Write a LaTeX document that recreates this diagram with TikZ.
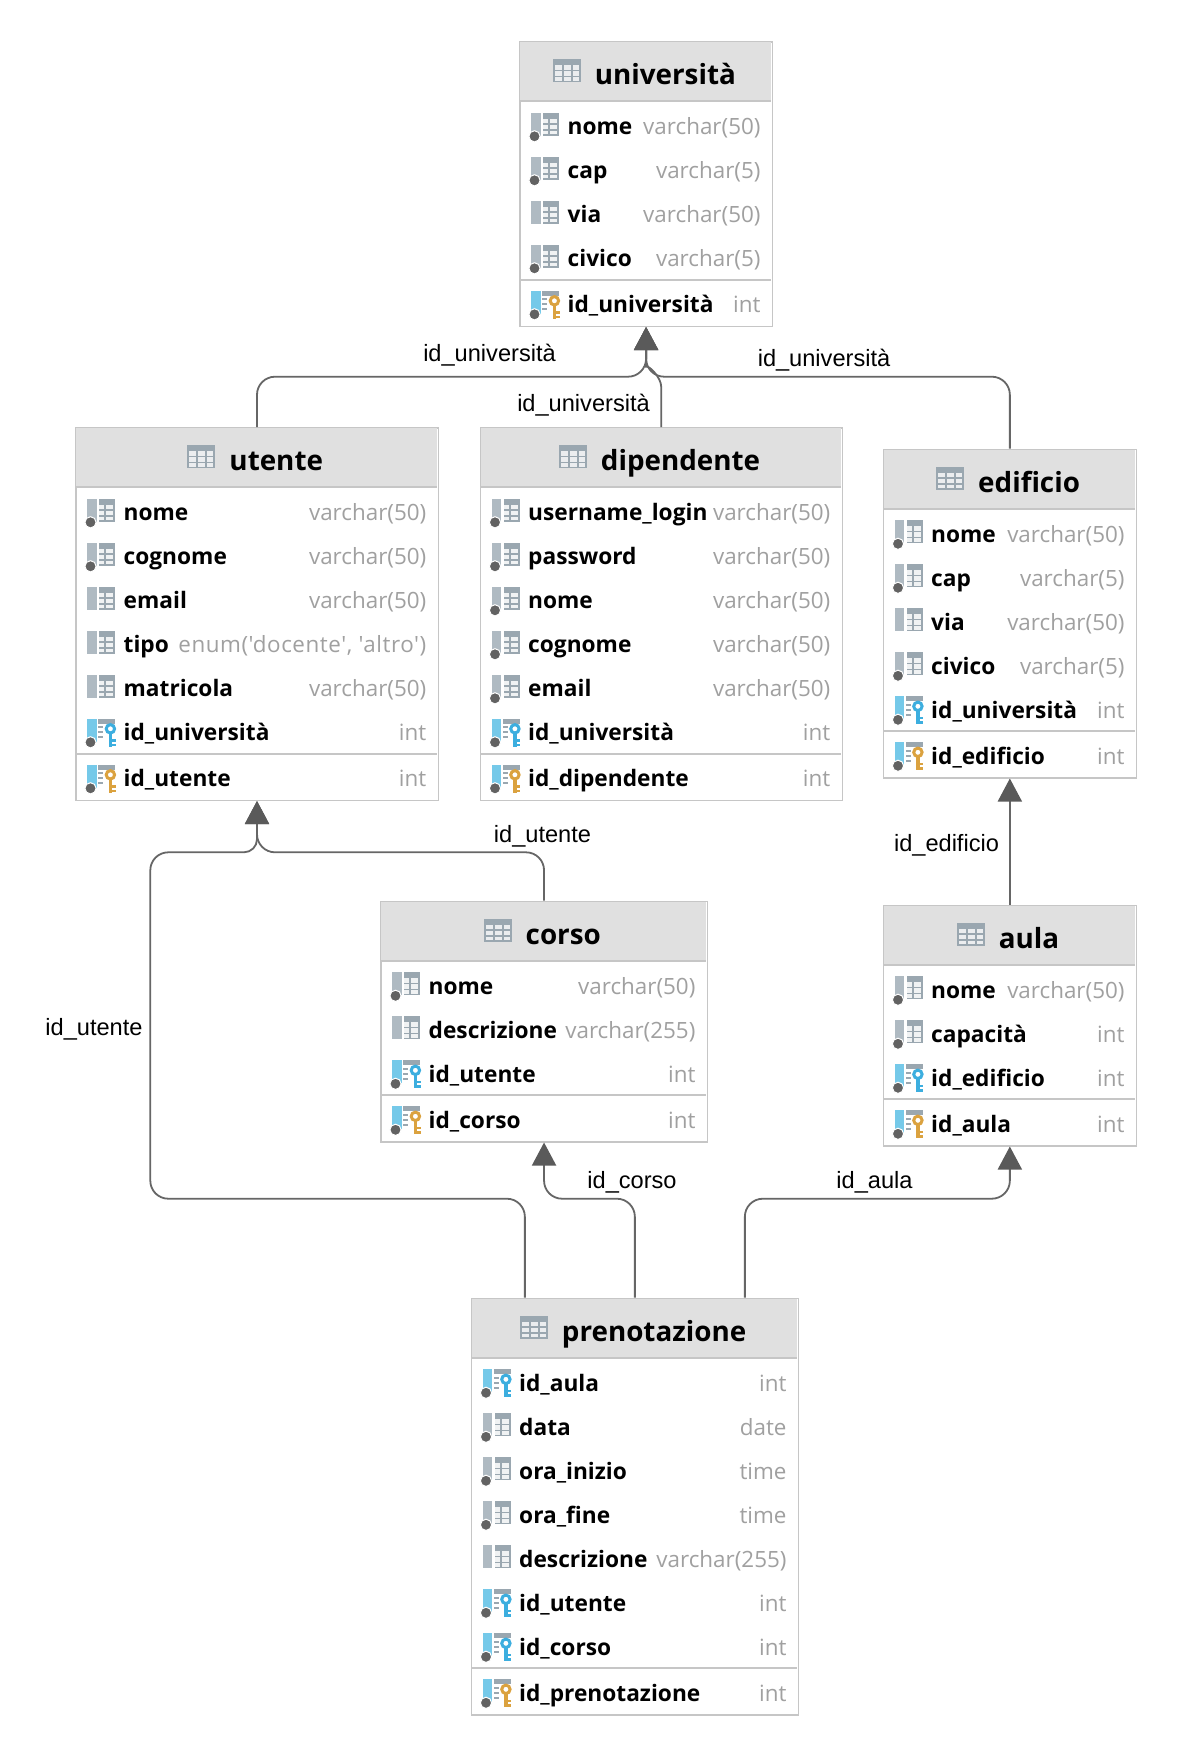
\documentclass[tikz,border=0pt]{standalone}
\usepackage{fontspec}
\usetikzlibrary{arrows.meta,calc}
\newfontfamily\dbname[BoldFont={Open Sans Bold}]{Open Sans}
\newfontfamily\dblabel{Liberation Sans}
\definecolor{dbborder}{HTML}{C6C6C6}
\definecolor{dbhead}{HTML}{E0E0E0}
\definecolor{dbtype}{HTML}{A0A0A0}
\definecolor{dbline}{HTML}{666666}
\definecolor{dbtip}{HTML}{5A5A5A}
\definecolor{icbar}{HTML}{AFBAC2}
\definecolor{icgrid}{HTML}{9AA7B0}
\definecolor{icblue}{HTML}{75C9E9}
\definecolor{ickeyf}{HTML}{3CAEDF}
\definecolor{ickeyp}{HTML}{DBA23F}
\definecolor{icdot}{HTML}{626262}
\tikzset{
  tablebox/.style={draw=dbborder,line width=1.5pt,fill=white,anchor=north west,inner sep=0pt},
  rule/.style={draw=dbborder,line width=2pt},
  rowname/.style={anchor=base west,inner sep=0pt,font=\dbname\bfseries\fontsize{22.7}{26}\selectfont,text=black},
  rowtype/.style={anchor=base east,inner sep=0pt,font=\dbname\fontsize{22.4}{26}\selectfont,text=dbtype},
  titletext/.style={anchor=base,inner sep=0pt,font=\dbname\bfseries\fontsize{27.8}{32}\selectfont,text=black},
  conn/.style={draw=dbline,line width=1.8pt,-{Triangle[length=23pt,width=24pt,color=dbtip]}},
  rel/.style={inner sep=0pt,font=\dblabel\fontsize{23.6}{27}\selectfont,text=black,anchor=center},
}
% --- icons: origin at top-left of the icon
\newcommand\dbgridicon{%
  \fill[icgrid] (12,0) rectangle (28,23);
  \foreach \ya/\yb in {6/10.5,12/16.5,18/21.5}{
    \fill[white!85!icgrid] (12,\ya) rectangle (17,\yb);
    \fill[white!85!icgrid] (19,\ya) rectangle (26,\yb);
  }
}
\newcommand\dbdot{%
  \fill[icdot,draw=white,line width=1pt] (3.5,23.5) circle[radius=5.6pt];
}
\newcommand\dbkeyicon[1]{%
  \fill[icblue] (0,0) rectangle (9.5,23);
  \fill[icgrid] (11,0) rectangle (28,5);
  \foreach \yy in {7.5,12.5,17.5}{\fill[icgrid] (11,\yy) rectangle (16,\yy+2);}
  \fill[#1] (21.6,14) rectangle (25,28);
  \fill[#1] (25,20.5) rectangle (28.5,23);
  \fill[#1] (25,25) rectangle (28.5,27.5);
  \draw[#1,line width=3pt,fill=white] (23.4,10) circle[radius=4.2pt];
  \dbdot
}
\newcommand\dbIconc[2]{\begin{scope}[shift={(#1,#2)}]\fill[icbar] (0,0) rectangle (9.5,23);\dbgridicon\end{scope}}
\newcommand\dbIconn[2]{\begin{scope}[shift={(#1,#2)}]\fill[icbar] (0,0) rectangle (9.5,23);\dbgridicon\dbdot\end{scope}}
\newcommand\dbIconf[2]{\begin{scope}[shift={(#1,#2)}]\dbkeyicon{ickeyf}\end{scope}}
\newcommand\dbIconp[2]{\begin{scope}[shift={(#1,#2)}]\dbkeyicon{ickeyp}\end{scope}}
% --- table: id, xL, xR, top, title, rows, pk name, pk type
\newcommand\dbtable[8]{%
  \pgfmathsetmacro\tw{#3-#2}
  \foreach \k/\n/\t [count=\i] in {#6}{\global\let\rowsG\i}
  \pgfmathsetmacro\sepy{#4+86+44*(\rowsG-1)+20.5}
  \pgfmathsetmacro\pky{\sepy+25.5}
  \pgfmathsetmacro\th{\sepy+46-#4}
  \pgfmathsetmacro\hb{#4+60}
  \pgfmathsetmacro\xc{(#2+#3)/2}
  \node[tablebox,minimum width=\tw pt,minimum height=\th pt] (#1) at (#2,#4) {};
  \fill[dbhead] (#2+1,#4+1) rectangle (#3-1,\hb);
  \draw[rule] (#2+1,\hb) -- (#3-1,\hb);
  \draw[rule] (#2+1,\sepy) -- (#3-1,\sepy);
  \pgfmathsetmacro\tby{#4+43.5}
  \pgfmathsetmacro\txc{\xc+20}
  \node[titletext] (#1-title) at (\txc,\tby) {#5};
  \fill[icgrid] ([xshift=-42pt,yshift=2.3pt]#1-title.base west) rectangle ++(28,-23);
  \begin{scope}[shift={([xshift=-42pt,yshift=2.3pt]#1-title.base west)}]
    \foreach \ya/\yb in {-17/-12.5,-11/-6.5,-5/-1.5}{
      \fill[white!80!icgrid] (2,\ya) rectangle (9,\yb);
      \fill[white!80!icgrid] (11,\ya) rectangle (18,\yb);
      \fill[white!80!icgrid] (20,\ya) rectangle (26,\yb);
    }
  \end{scope}
  \pgfmathsetmacro\xn{#2+48.5}
  \pgfmathsetmacro\xt{#3-11}
  \pgfmathsetmacro\xi{#2+12}
  \foreach \k/\n/\t [count=\i] in {#6}{
    \pgfmathsetmacro\yc{#4+86+44*(\i-1)}
    \pgfmathsetmacro\yb{\yc+7.5}
    \pgfmathsetmacro\yi{\yc-14.2}
    \csname dbIcon\k\endcsname{\xi}{\yi}
    \node[rowname] (#1-r\i-n) at (\xn,\yb) {\n};
    \node[rowtype] (#1-r\i-t) at (\xt,\yb) {\t};
  }
  \pgfmathsetmacro\yb{\pky+7.5}
  \pgfmathsetmacro\yi{\pky-14.2}
  \dbIconp{\xi}{\yi}
  \node[rowname] (#1-pk-n) at (\xn,\yb) {#7};
  \node[rowtype] (#1-pk-t) at (\xt,\yb) {#8};
}
\begin{document}
\begin{tikzpicture}[x=1pt,y=-1pt]
\useasboundingbox[fill=white] (0,0) rectangle (1178,1756);

\dbtable{univ}{519}{771.7}{41}{università}{n/nome/varchar(50),n/cap/varchar(5),c/via/varchar(50),n/civico/varchar(5)}{id\_università}{int}
\dbtable{utente}{75}{437.5}{427}{utente}{n/nome/varchar(50),n/cognome/varchar(50),c/email/varchar(50),c/tipo/{\addfontfeature{LetterSpace=2.5}enum('docente', 'altro')},c/matricola/varchar(50),f/id\_università/int}{id\_utente}{int}
\dbtable{dip}{479.5}{841.5}{427}{dipendente}{n/username\_login/varchar(50),n/password/varchar(50),n/nome/varchar(50),n/cognome/varchar(50),n/email/varchar(50),f/id\_università/int}{id\_dipendente}{int}
\dbtable{edificio}{882.5}{1135.7}{448.5}{edificio}{n/nome/varchar(50),n/cap/varchar(5),c/via/varchar(50),n/civico/varchar(5),f/id\_università/int}{id\_edificio}{int}
\dbtable{corso}{380}{706.6}{900.5}{corso}{n/nome/varchar(50),c/descrizione/varchar(255),f/id\_utente/int}{id\_corso}{int}
\dbtable{aula}{882.5}{1135.7}{904.5}{aula}{n/nome/varchar(50),n/capacità/int,f/id\_edificio/int}{id\_aula}{int}
\dbtable{pren}{470.5}{797.7}{1297.5}{prenotazione}{f/id\_aula/int,n/data/date,n/ora\_inizio/time,n/ora\_fine/time,c/descrizione/varchar(255),f/id\_utente/int,f/id\_corso/int}{id\_prenotazione}{int}

% connectors
\coordinate (busA) at (univ.south |- 0,376.7);
\coordinate (busB) at (utente.south |- 0,852.3);
\coordinate (leftU) at (150.3,852.3);
\draw[conn,rounded corners=18pt] (utente.north) |- (busA) [rounded corners=13pt] -- (univ.south);
\draw[conn,rounded corners=18pt] (edificio.north) |- (busA) [rounded corners=13pt] -- (univ.south);
\draw[conn] (dip.north) -- ([yshift=40pt]dip.north) .. controls ([yshift=50pt]dip.north) and ([xshift=2pt,yshift=12pt]busA) .. ([yshift=10pt]busA) -- (univ.south);
\draw[conn] (aula.north) -- (edificio.south);
\draw[conn,rounded corners=18pt] (corso.north) |- (busB) [rounded corners=13pt] -- (utente.south);
\coordinate (busP) at (0,1198.7);
\draw[conn,rounded corners=18pt] ([xshift=-110pt]pren.north) |- (leftU |- busP) -- (leftU) [rounded corners=13pt] -- (busB) -- (utente.south);
\draw[conn,rounded corners=18pt] (pren.north) |- (corso.south |- busP) -- (corso.south);
\draw[conn,rounded corners=18pt] ([xshift=110pt]pren.north) |- (aula.south |- busP) -- (aula.south);

% labels
\node[rel] (l1) at (489.5,355) {id\_università};
\node[rel] (l2) at (583.5,405) {id\_università};
\node[rel] (l3) at (824,360) {id\_università};
\node[rel] (l4) at (946.5,845) {id\_edificio};
\node[rel] (l5) at (542.5,836) {id\_utente};
\node[rel] (l6) at (94,1029) {id\_utente};
\node[rel] (l7) at (632,1182) {id\_corso};
\node[rel] (l8) at (874.5,1182) {id\_aula};
\end{tikzpicture}
\end{document}
